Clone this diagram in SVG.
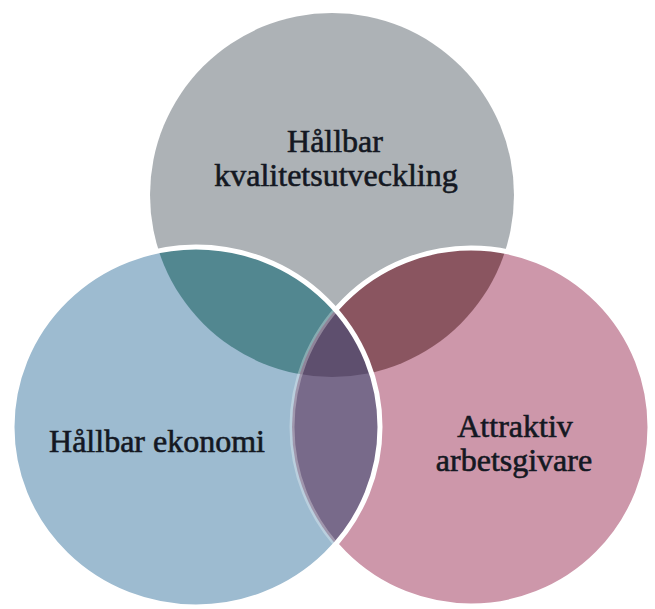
<svg xmlns="http://www.w3.org/2000/svg" width="655" height="609" viewBox="0 0 655 609">
<style>
.lbl{font-family:"Liberation Serif","Times New Roman",serif;font-size:32px;fill:#141822;stroke:#141822;stroke-width:0.6;text-anchor:middle}
.edge{fill:none;stroke:#ffffff;stroke-width:5}
</style>
<defs>
<clipPath id="clipL"><ellipse cx="196" cy="427" rx="184" ry="180"/></clipPath>
<clipPath id="clipR"><circle cx="471" cy="427" r="179"/></clipPath>
<clipPath id="clipNotL"><path clip-rule="evenodd" d="M0 0H655V609H0Z M12 427a184 180 0 1 0 368 0a184 180 0 1 0 -368 0Z"/></clipPath>
</defs>
<rect width="655" height="609" fill="#ffffff"/>
<g id="node-top">
<circle cx="332" cy="195" r="182" fill="#adb2b6"/>
</g>
<g id="node-right">
<circle cx="471" cy="427" r="179" fill="#cd97aa"/>
</g>
<g id="node-left">
<ellipse cx="196" cy="427" rx="184" ry="180" fill="#9dbbd0"/>
</g>
<g id="overlaps">
<circle cx="332" cy="195" r="182" fill="#528790" clip-path="url(#clipL)"/>
<circle cx="332" cy="195" r="182" fill="#8a5560" clip-path="url(#clipR)"/>
<circle cx="471" cy="427" r="179" fill="#786a8a" clip-path="url(#clipL)"/>
<g clip-path="url(#clipL)"><circle cx="332" cy="195" r="182" fill="#5e4f6e" clip-path="url(#clipR)"/></g>
</g>
<g id="edges">
<circle class="edge" cx="471" cy="427" r="179" clip-path="url(#clipNotL)"/>
<circle class="edge" cx="471" cy="427" r="179" stroke-opacity="0.3" stroke-width="7" clip-path="url(#clipL)"/>
<ellipse class="edge" cx="196" cy="427" rx="184" ry="180"/>
</g>
<g id="labels">
<text class="lbl" x="335" y="152">Hållbar</text>
<text class="lbl" x="336" y="186">kvalitetsutveckling</text>
<text class="lbl" x="157" y="452">Hållbar ekonomi</text>
<text class="lbl" x="515" y="437">Attraktiv</text>
<text class="lbl" x="514" y="471">arbetsgivare</text>
</g>
</svg>
